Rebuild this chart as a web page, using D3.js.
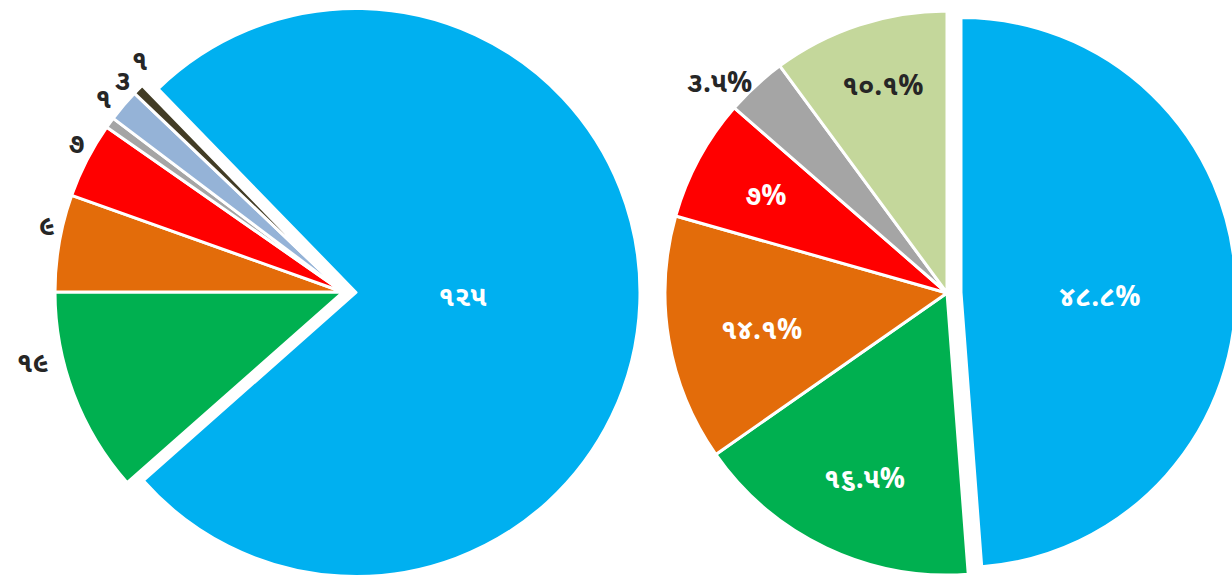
<!DOCTYPE html>
<html>
<head>
<meta charset="utf-8">
<script src="https://cdn.jsdelivr.net/npm/d3@7"></script>
<style>
  body { margin: 0; background: #fff; }
  svg { display: block; }
  text { font-family: "Noto Sans Gujarati", "Lohit Gujarati", "Noto Sans", sans-serif; font-weight: bold; }
</style>
</head>
<body>
<svg width="1232" height="577"></svg>
<script>
// left pie: counts
var leftLabels = ['૧૨૫', '૧૯', '૯', '૭', '૧', '૩', '૧'];
var leftValues = [125, 19, 9, 7, 1, 3, 1];

// right pie: percentages
var rightLabels = ['૪૮.૮%', '૧૬.૫%', '૧૪.૧%', '૭%', '૩.૫%', '૧૦.૧%'];
var rightValues = [48.8, 16.5, 14.1, 7, 3.5, 10.1];

var leftColors = ['#00b0f0', '#00b050', '#e36c0a', '#ff0000', '#a5a5a5', '#95b3d7', '#423c25'];
var rightColors = ['#00b0f0', '#00b050', '#e36c0a', '#ff0000', '#a5a5a5', '#c4d79b'];

var rad = Math.PI / 180;

var svg = d3.select('svg');

// pie settings, label spots are [radius factor, angle nudge in degrees]
var leftPie = {
    cx: 343, cy: 292, r: 288, rBig: 284, explode: 13, start: -44.2,
    values: leftValues, labels: leftLabels, colors: leftColors,
    inside: [true, false, false, false, false, false, false],
    spots: [[0.375, 0], [1.105, 8], [1.055, 3], [1.06, 2], [1.07, 3], [1.06, 3.5], [1.07, 4]]
};
var rightPie = {
    cx: 947, cy: 293, r: 282, rBig: 275, explode: 14, start: 0,
    values: rightValues, labels: rightLabels, colors: rightColors,
    inside: [true, true, true, true, false, true],
    spots: [[0.505, 3.5], [0.72, -1.4], [0.67, -1.5], [0.73, 0], [1.1, -4.5], [0.77, 1]]
};

function drawPie(p) {
    var pie = d3.pie()
        .sort(null)
        .startAngle(p.start * rad)
        .endAngle(p.start * rad + 2 * Math.PI);

    var arcs = pie(p.values);

    var g = svg.append('g')
        .attr('transform', 'translate(' + p.cx + ',' + p.cy + ')');

    var slices = g.selectAll('g.slice')
        .data(arcs)
        .enter()
        .append('g')
        .attr('class', 'slice')
        .attr('transform', function(d, i) {
            if (i != 0) return null;
            var mid = (d.startAngle + d.endAngle) / 2;
            return 'translate(' + (p.explode * Math.sin(mid)) + ',' + (-p.explode * Math.cos(mid)) + ')';
        });

    slices.append('path')
        .attr('d', function(d, i) {
            return d3.arc().innerRadius(0).outerRadius(i == 0 ? p.rBig : p.r)(d);
        })
        .attr('fill', function(d, i) { return p.colors[i]; })
        .attr('stroke', '#fff')
        .attr('stroke-width', 3)
        .attr('stroke-linejoin', 'round');

    slices.append('text')
        .attr('x', function(d, i) {
            var a = (d.startAngle + d.endAngle) / 2 + p.spots[i][1] * rad;
            return Math.sin(a) * p.spots[i][0] * (i == 0 ? p.rBig : p.r);
        })
        .attr('y', function(d, i) {
            var a = (d.startAngle + d.endAngle) / 2 + p.spots[i][1] * rad;
            return -Math.cos(a) * p.spots[i][0] * (i == 0 ? p.rBig : p.r);
        })
        .attr('dy', '0.35em')
        .attr('text-anchor', 'middle')
        .attr('font-size', 28)
        .attr('fill', function(d, i) {
            if (!p.inside[i]) return '#262626';
            return p.colors[i] == '#c4d79b' ? '#262626' : '#fff';
        })
        .text(function(d, i) { return p.labels[i]; });
}

drawPie(leftPie);
drawPie(rightPie);
</script>
</body>
</html>
